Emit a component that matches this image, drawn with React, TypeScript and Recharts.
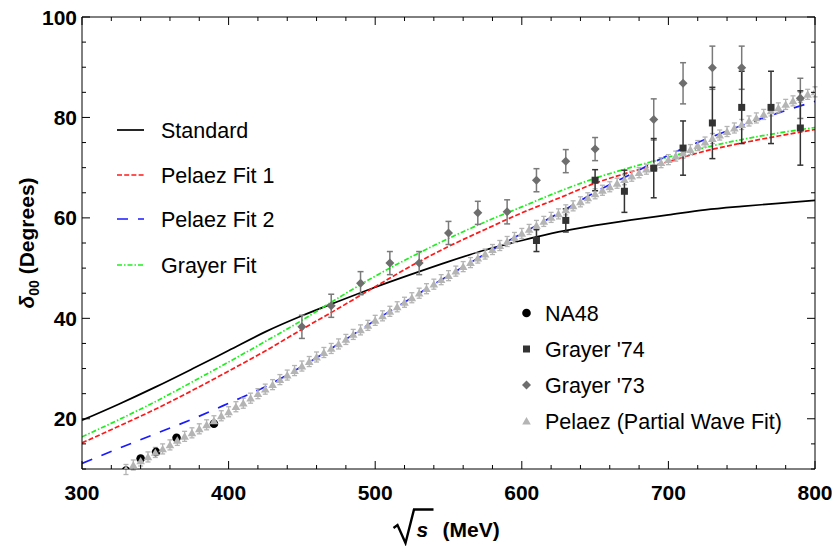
import React from 'react'
import { ComposedChart, Line, Scatter, XAxis, YAxis, ErrorBar, Legend } from 'recharts'

const FONT = '"Liberation Sans", Arial, Helvetica, sans-serif'

// fitted curves (sampled every 25 MeV)
const curveX = [300, 325, 350, 375, 400, 425, 450, 475, 500, 525, 550, 575, 600, 625, 650, 675, 700, 725, 750, 775, 800]
const standard = [19.7, 22.9, 26.3, 29.9, 33.6, 37.3, 40.5, 43.4, 46.2, 48.8, 51.3, 53.6, 55.5, 57.2, 58.5, 59.6, 60.6, 61.6, 62.3, 62.9, 63.5]
const pelaezFit1 = [15.2, 18.5, 21.9, 25.6, 29.5, 33.5, 37.8, 42.0, 46.3, 50.5, 54.3, 57.7, 61.0, 63.9, 66.9, 69.2, 71.2, 73.3, 74.9, 76.3, 77.6]
const pelaezFit2 = [11.1, 14.1, 17.0, 19.9, 23.1, 26.4, 30.4, 34.9, 39.6, 44.1, 48.5, 52.8, 56.9, 60.9, 65.1, 68.8, 72.5, 75.6, 78.4, 80.9, 83.2]
const grayerFit = [16.4, 19.8, 23.4, 27.3, 31.3, 35.4, 39.6, 44.1, 48.4, 52.3, 55.9, 59.2, 62.2, 65.2, 67.9, 70.1, 72.1, 74.0, 75.6, 76.9, 78.0]

// NA48
const na48X = [330, 340, 350.5, 364.5, 390]
const na48Y = [9.7, 12.1, 13.4, 16.2, 19.0]

// Grayer '74
const g74X = [610, 630, 650, 670, 690, 710, 730, 750, 770, 790]
const g74Y = [55.5, 59.5, 67.5, 65.3, 69.9, 73.9, 78.9, 82.0, 82.0, 77.9]
const g74Err = [2.2, 2.3, 2.1, 4.2, 5.9, 5.4, 7.1, 7.2, 7.2, 7.4]

// Grayer '73
const g73X = [450, 470, 490, 510, 530, 550, 570, 590, 610, 630, 650, 690, 710, 730, 750, 790]
const g73Y = [38.3, 42.5, 47.0, 51.0, 51.0, 57.0, 61.0, 61.2, 67.5, 71.3, 73.7, 79.6, 86.8, 89.9, 89.9, 83.8]
const g73Err = [2.3, 2.3, 2.3, 2.3, 2.3, 2.3, 2.3, 2.4, 2.3, 2.3, 2.3, 4.1, 4.1, 4.3, 4.3, 4.0]

// Pelaez partial wave fit
const pwfX = [
  330, 335, 340, 345, 350, 355, 360, 365, 370, 375, 380, 385, 390, 395, 400, 405, 410, 415, 420, 425,
  430, 435, 440, 445, 450, 455, 460, 465, 470, 475, 480, 485, 490, 495, 500, 505, 510, 515, 520, 525,
  530, 535, 540, 545, 550, 555, 560, 565, 570, 575, 580, 585, 590, 595, 600, 605, 610, 615, 620, 625,
  630, 635, 640, 645, 650, 655, 660, 665, 670, 675, 680, 685, 690, 695, 700, 705, 710, 715, 720, 725,
  730, 735, 740, 745, 750, 755, 760, 765, 770, 775, 780, 785, 790, 795, 800,
]
const pwfY = [
  9.9, 10.8, 11.6, 12.4, 13.3, 14.0, 14.8, 15.7, 16.5, 17.2, 18.0, 18.8, 19.6, 20.6, 21.4, 22.4, 23.1, 24.1, 25.0, 25.9,
  26.8, 27.8, 28.7, 29.6, 30.5, 31.4, 32.3, 33.2, 34.0, 34.9, 35.8, 36.8, 37.7, 38.6, 39.6, 40.5, 41.4, 42.3, 43.2, 44.1,
  45.0, 45.9, 46.8, 47.7, 48.5, 49.4, 50.3, 51.1, 52.0, 52.8, 53.7, 54.5, 55.3, 56.1, 56.9, 57.7, 58.5, 59.3, 60.1, 60.8,
  61.6, 62.4, 63.2, 64.0, 64.8, 65.5, 66.2, 66.9, 67.6, 68.3, 69.0, 69.7, 70.3, 71.0, 71.6, 72.3, 72.9, 73.6, 74.4, 75.1,
  75.8, 76.5, 77.2, 77.9, 78.6, 79.3, 79.9, 80.6, 81.3, 81.9, 82.6, 83.3, 84.0, 84.6, 85.1,
]
const pwfErr = 1.0

const xTicks = [300, 320, 340, 360, 380, 400, 420, 440, 460, 480, 500, 520, 540, 560, 580, 600, 620, 640, 660, 680, 700, 720, 740, 760, 780, 800]
const yTicks = [10, 15, 20, 25, 30, 35, 40, 45, 50, 55, 60, 65, 70, 75, 80, 85, 90, 95, 100]

const lineNames = ['Standard', 'Pelaez Fit 1', 'Pelaez Fit 2', 'Grayer Fit']
const pointNames = ['NA48', "Grayer '74", "Grayer '73", 'Pelaez (Partial Wave Fit)']

const curve = (ys: number[]) => curveX.map((x, i) => ({ x, y: ys[i] }))
const standardData = curve(standard)
const fit1Data = curve(pelaezFit1)
const fit2Data = curve(pelaezFit2)
const grayerFitData = curve(grayerFit)
const na48Data = na48X.map((x, i) => ({ x, y: na48Y[i] }))
const g74Data = g74X.map((x, i) => ({ x, y: g74Y[i], err: g74Err[i] }))
const g73Data = g73X.map((x, i) => ({ x, y: g73Y[i], err: g73Err[i] }))
const pwfData = pwfX.map((x, i) => ({ x, y: pwfY[i], err: pwfErr }))

const RED = '#ff1a1a'
const BLUE = '#1a1aff'
const GREEN = '#1ef01e'
const DARK = '#333333'
const MID = '#6e6e6e'
const LIGHT = '#b4b4b4'

const lineStyles = [
  { color: '#000', dash: undefined },
  { color: RED, dash: '5 2.2' },
  { color: BLUE, dash: '11 10' },
  { color: GREEN, dash: '5 2 1.5 2' },
]

function BottomTick({ x, y, payload }: any) {
  const major = payload.value % 100 === 0
  return (
    <g>
      <line x1={x} x2={x} y1={y} y2={y - (major ? 8 : 4)} stroke="#000" />
      {major && (
        <text x={x} y={y + 31} textAnchor="middle" fontFamily={FONT} fontWeight="bold" fontSize={21} fill="#000">
          {payload.value}
        </text>
      )}
    </g>
  )
}

function TopTick({ x, y, payload }: any) {
  const major = payload.value % 100 === 0
  return <line x1={x} x2={x} y1={y} y2={y + (major ? 8 : 4)} stroke="#000" />
}

function LeftTick({ x, y, payload }: any) {
  const major = payload.value % 20 === 0
  return (
    <g>
      <line x1={x} x2={x + (major ? 8 : 4)} y1={y} y2={y} stroke="#000" />
      {major && (
        <text x={x - 5} y={y + 7.5} textAnchor="end" fontFamily={FONT} fontWeight="bold" fontSize={21} fill="#000">
          {payload.value}
        </text>
      )}
    </g>
  )
}

function RightTick({ x, y, payload }: any) {
  const major = payload.value % 20 === 0
  return <line x1={x} x2={x - (major ? 8 : 4)} y1={y} y2={y} stroke="#000" />
}

function XLabel({ viewBox }: any) {
  const cx = viewBox.x + viewBox.width / 2
  const top = viewBox.y
  return (
    <g fontFamily={FONT} fontWeight="bold" fontSize={21} fill="#000">
      <path
        d={`M${cx - 55},${top + 59} L${cx - 51},${top + 56} L${cx - 43},${top + 74} L${cx - 34.5},${top + 40.5} L${cx - 15},${top + 40.5}`}
        fill="none"
        stroke="#000"
        strokeWidth={2.4}
        strokeLinejoin="miter"
      />
      <text x={cx - 32} y={top + 68} fontStyle="italic">s</text>
      <text x={cx - 6} y={top + 68}>(MeV)</text>
    </g>
  )
}

function YLabel({ viewBox }: any) {
  const bx = viewBox.x + 12
  const cy = viewBox.y + viewBox.height / 2
  return (
    <text
      x={bx}
      y={cy}
      transform={`rotate(-90, ${bx}, ${cy})`}
      textAnchor="middle"
      fontFamily={FONT}
      fontWeight="bold"
      fontSize={21}
      fill="#000"
    >
      <tspan fontStyle="italic">δ</tspan>
      <tspan fontSize={14} dy={5}>00</tspan>
      <tspan dy={-5}> (Degrees)</tspan>
    </text>
  )
}

function Marker({ kind, cx, cy }: { kind: number; cx: number; cy: number }) {
  if (kind === 0) return <circle cx={cx} cy={cy} r={4.3} fill="#000" />
  if (kind === 1) return <rect x={cx - 3.5} y={cy - 3.5} width={7} height={7} fill={DARK} />
  if (kind === 2) return <polygon points={`${cx},${cy - 4.5} ${cx + 4.5},${cy} ${cx},${cy + 4.5} ${cx - 4.5},${cy}`} fill={MID} />
  return <polygon points={`${cx},${cy - 4} ${cx + 4.3},${cy + 3.4} ${cx - 4.3},${cy + 3.4}`} fill={LIGHT} />
}

function LegendBox() {
  return (
    <svg width={832} height={546} style={{ position: 'absolute', left: 0, top: 0 }}>
      {lineNames.map((name, i) => {
        const cy = [130, 175, 219, 265][i]
        return (
          <g key={name}>
            <line x1={117} x2={144} y1={cy} y2={cy} stroke={lineStyles[i].color} strokeWidth={1.7} strokeDasharray={lineStyles[i].dash} />
            <text x={161} y={cy + 7.7} fontFamily={FONT} fontSize={21.5} fill="#000">{name}</text>
          </g>
        )
      })}
      {pointNames.map((name, i) => {
        const cy = [313, 349, 385, 421][i]
        return (
          <g key={name}>
            <Marker kind={i} cx={526.5} cy={cy} />
            <text x={545} y={cy + 7.7} fontFamily={FONT} fontSize={21.5} fill="#000">{name}</text>
          </g>
        )
      })}
    </svg>
  )
}

export default function App() {
  return (
    <div style={{ position: 'absolute', left: 0, top: 0, background: '#fff' }}>
      <ComposedChart width={832} height={546} margin={{ top: 12, right: 7, bottom: 27, left: 22 }}>
        <XAxis
          dataKey="x"
          type="number"
          domain={[300, 800]}
          ticks={xTicks}
          allowDataOverflow
          height={50}
          tickSize={0}
          tickMargin={0}
          tickLine={false}
          tick={<BottomTick />}
          axisLine={{ stroke: '#000' }}
          interval={0}
          label={<XLabel />}
        />
        <XAxis
          xAxisId="top"
          orientation="top"
          dataKey="x"
          type="number"
          domain={[300, 800]}
          ticks={xTicks}
          allowDataOverflow
          height={5}
          tickSize={0}
          tickMargin={0}
          tickLine={false}
          tick={<TopTick />}
          axisLine={{ stroke: '#000' }}
          interval={0}
        />
        <YAxis
          dataKey="y"
          type="number"
          domain={[10, 100]}
          ticks={yTicks}
          allowDataOverflow
          width={60}
          tickSize={0}
          tickMargin={0}
          tickLine={false}
          tick={<LeftTick />}
          axisLine={{ stroke: '#000' }}
          interval={0}
          label={<YLabel />}
        />
        <YAxis
          yAxisId="right"
          orientation="right"
          dataKey="y"
          type="number"
          domain={[10, 100]}
          ticks={yTicks}
          allowDataOverflow
          width={10}
          tickSize={0}
          tickMargin={0}
          tickLine={false}
          tick={<RightTick />}
          axisLine={{ stroke: '#000' }}
          interval={0}
        />
        <Legend layout="horizontal" verticalAlign="middle" align="center" wrapperStyle={{ left: 0, top: 0, width: 832, height: 546, pointerEvents: 'none' }} content={() => <LegendBox />} />
        <Line data={standardData} dataKey="y" name={lineNames[0]} type="monotone" stroke="#000" strokeWidth={1.7} dot={false} activeDot={false} isAnimationActive={false} />
        <Line data={fit1Data} dataKey="y" name={lineNames[1]} type="monotone" stroke={RED} strokeWidth={1.7} strokeDasharray={lineStyles[1].dash} dot={false} activeDot={false} isAnimationActive={false} />
        <Line data={grayerFitData} dataKey="y" name={lineNames[3]} type="monotone" stroke={GREEN} strokeWidth={1.7} strokeDasharray={lineStyles[3].dash} dot={false} activeDot={false} isAnimationActive={false} />
        <Line data={fit2Data} dataKey="y" name={lineNames[2]} type="monotone" stroke={BLUE} strokeWidth={1.7} strokeDasharray={lineStyles[2].dash} dot={false} activeDot={false} isAnimationActive={false} />
        <Scatter data={na48Data} dataKey="y" name={pointNames[0]} isAnimationActive={false} shape={(p: any) => <Marker kind={0} cx={p.cx} cy={p.cy} />} />
        <Scatter data={pwfData} dataKey="y" name={pointNames[3]} isAnimationActive={false} shape={(p: any) => <Marker kind={3} cx={p.cx} cy={p.cy} />}>
          <ErrorBar dataKey="err" direction="y" width={2.5} stroke={LIGHT} strokeWidth={1.3} />
        </Scatter>
        <Scatter data={g73Data} dataKey="y" name={pointNames[2]} isAnimationActive={false} shape={(p: any) => <Marker kind={2} cx={p.cx} cy={p.cy} />}>
          <ErrorBar dataKey="err" direction="y" width={3} stroke="#7a7a7a" strokeWidth={1.5} />
        </Scatter>
        <Scatter data={g74Data} dataKey="y" name={pointNames[1]} isAnimationActive={false} shape={(p: any) => <Marker kind={1} cx={p.cx} cy={p.cy} />}>
          <ErrorBar dataKey="err" direction="y" width={3} stroke={DARK} strokeWidth={1.5} />
        </Scatter>
      </ComposedChart>
    </div>
  )
}
